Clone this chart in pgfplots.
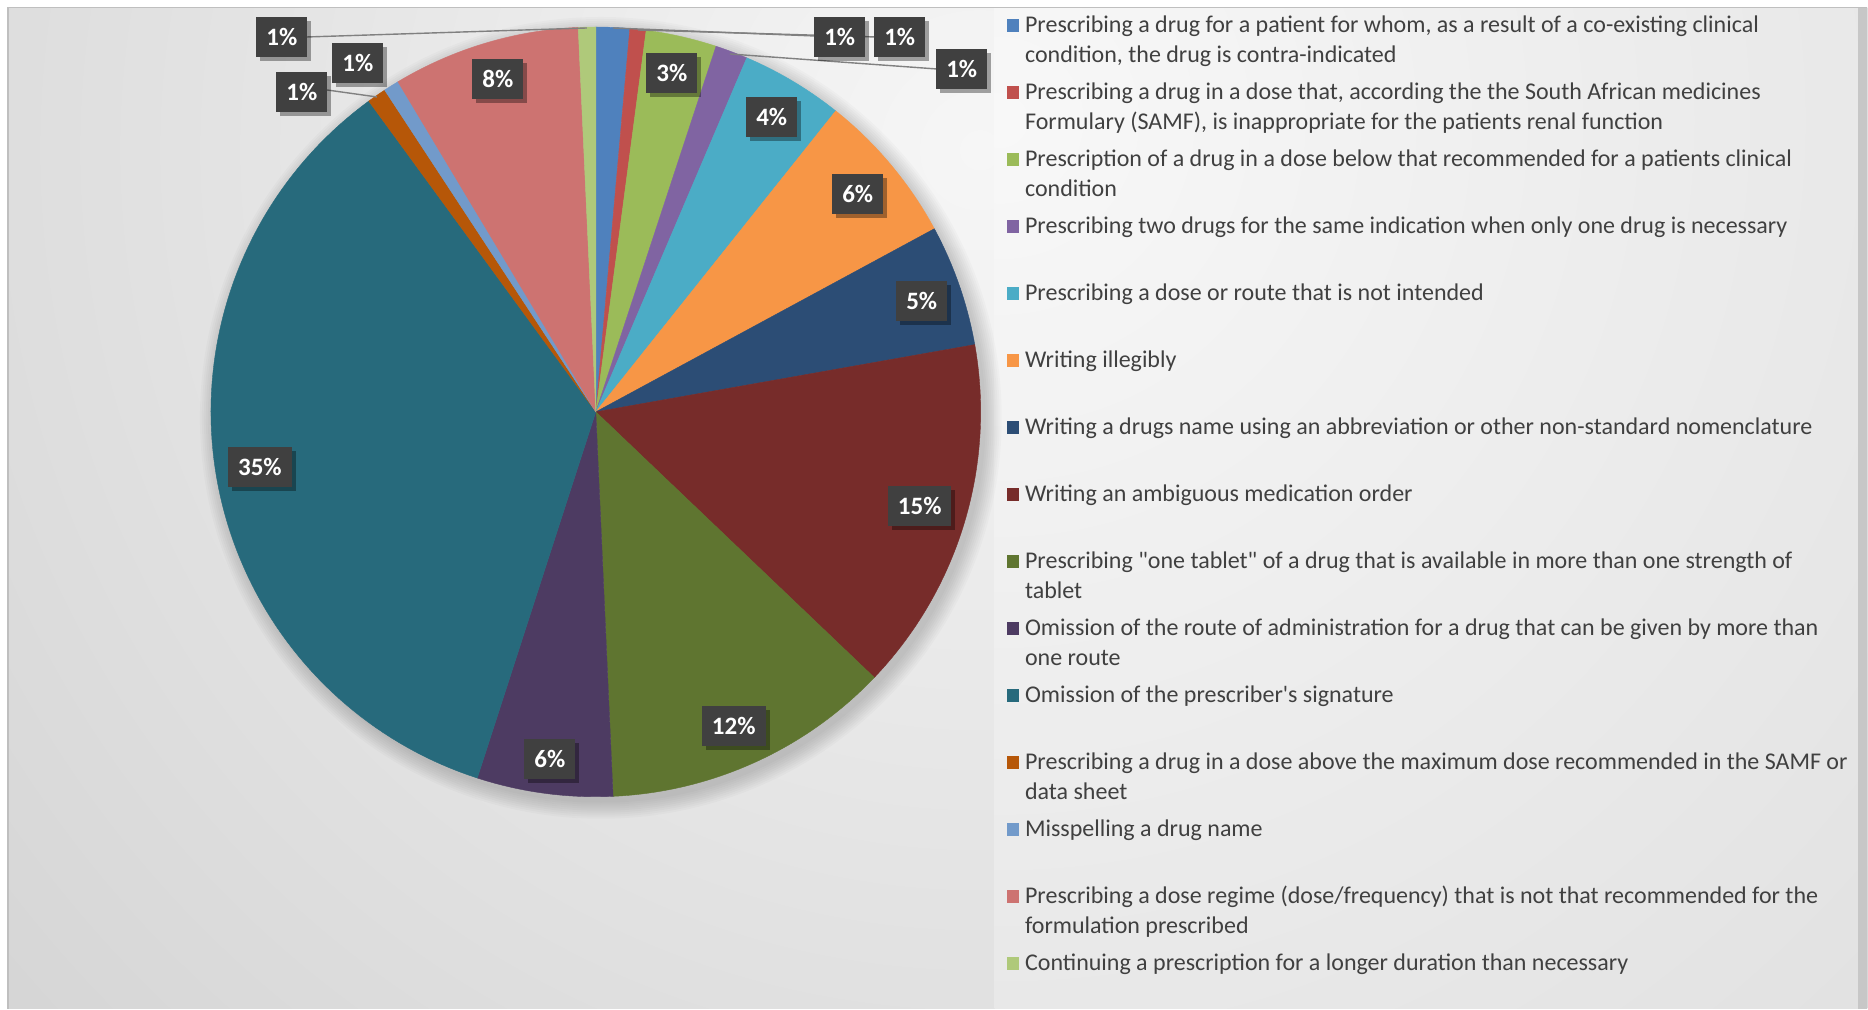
\documentclass[border=0pt]{standalone}
\usepackage{pgfplots}
\pgfplotsset{compat=1.18}
\usepackage{pgfplotstable}
\usepackage{fontspec}
\setmainfont{Carlito}
\newfontfamily\legf{Carlito}
\usetikzlibrary{shadows}

\definecolor{slcol0}{HTML}{4F81BD}
\definecolor{slcol1}{HTML}{C0504D}
\definecolor{slcol2}{HTML}{9BBB59}
\definecolor{slcol3}{HTML}{8064A2}
\definecolor{slcol4}{HTML}{4BACC6}
\definecolor{slcol5}{HTML}{F79646}
\definecolor{slcol6}{HTML}{2C4D75}
\definecolor{slcol7}{HTML}{772C2A}
\definecolor{slcol8}{HTML}{5F7530}
\definecolor{slcol9}{HTML}{4D3B62}
\definecolor{slcol10}{HTML}{276A7C}
\definecolor{slcol11}{HTML}{B65708}
\definecolor{slcol12}{HTML}{729ACA}
\definecolor{slcol13}{HTML}{CD7371}
\definecolor{slcol14}{HTML}{AFC97A}
\definecolor{lblgray}{HTML}{404040}
\definecolor{legtext}{HTML}{404040}
\definecolor{bgdark}{HTML}{C4C4C4}
\definecolor{bglight}{HTML}{F6F6F6}
\definecolor{lgdark}{HTML}{D4D4D4}
\definecolor{lglight}{HTML}{F8F8F8}
\definecolor{leader}{HTML}{808080}

% share of each category (percent), clockwise from 12 o'clock
\pgfplotstableread{
v
1.41
0.68
2.97
1.36
4.30
6.40
5.10
14.93
12.17
5.70
35.00
0.80
0.65
7.87
0.73
}\piedata

\tikzset{
  lbl/.style={fill=lblgray, text=white, font=\fontsize{12.5bp}{15bp}\selectfont\bfseries,
    inner xsep=5bp, inner ysep=0pt, minimum height=20bp, minimum width=25bp,
    drop shadow={shadow xshift=2bp, shadow yshift=-2bp, opacity=0.35, fill=black}},
  legfont/.style={anchor=base west, inner sep=0pt, text=legtext, font=\legf\fontsize{12bp}{15bp}\selectfont}
}

\newcommand\legitem[4]{%
  \fill[#2] (axis cs:1007,{33+67*(#1-1)-14}) rectangle (axis cs:1019,{33+67*(#1-1)-1});
  \node[legfont] at (axis cs:1025,{33+67*(#1-1)}) {#3};
  \node[legfont] at (axis cs:1025,{33+67*(#1-1)+30}) {#4};
}

\begin{document}
\begin{tikzpicture}
\begin{axis}[x=0.5bp, y=0.5bp, y dir=reverse, xmin=0, xmax=1868, ymin=0, ymax=1009,
  hide axis, clip=false, scale only axis]
% background
\fill[white] (axis cs:0,0) rectangle (axis cs:1868,1009);
\begin{scope}
\clip (axis cs:8,8) rectangle (axis cs:1868,1009);
\fill[bgdark] (axis cs:8,8) rectangle (axis cs:1868,1009);
\shade[inner color=bglight, outer color=bgdark] (axis cs:980,150) circle[radius=1000bp];
\end{scope}
\begin{scope}
\clip (axis cs:995,8) rectangle (axis cs:1859,1009);
\fill[lgdark] (axis cs:995,8) rectangle (axis cs:1859,1009);
\shade[inner color=lglight, outer color=lgdark] (axis cs:1000,120) circle[radius=1000bp];
\end{scope}
\fill[black!22] (axis cs:1859,8) rectangle (axis cs:1868,1009);
\draw[black!25, line width=0.6bp] (axis cs:8,1009) -- (axis cs:8,7.5) -- (axis cs:1868,7.5);

% pie shadow
\pgfplotsinvokeforeach{1,...,9}{
  \fill[black, opacity=0.02] (axis cs:601,418) circle[radius={(191.5+#1)*1bp}];
}

% slices
\pgfmathsetmacro\tot{0}
\pgfplotsforeachungrouped \i in {0,...,14}{%
  \pgfplotstablegetelem{\i}{v}\of\piedata
  \pgfmathsetmacro\tot{\tot+\pgfplotsretval}%
}
\pgfmathsetmacro\fac{360/\tot}
\xdef\cum{0}
\pgfplotsforeachungrouped \i in {0,...,14}{%
  \pgfplotstablegetelem{\i}{v}\of\piedata
  \pgfmathsetmacro\a{\cum*\fac}%
  \pgfmathsetmacro\newcum{\cum+\pgfplotsretval}%
  \pgfmathsetmacro\b{\newcum*\fac}%
  \xdef\cum{\newcum}%
  \edef\cmd{\noexpand\addplot[fill=slcol\i, draw=slcol\i, line width=0.2bp, domain=\a:\b, samples=90]
    ({596+385*sin(x)},{412-385*cos(x)}) -- (axis cs:596,412) -- cycle;}%
  \cmd
}

% leader lines
\draw[leader, line width=0.7bp] (axis cs:307,37) -- (axis cs:587,28);
\draw[leader, line width=0.7bp] (axis cs:613,28) -- (axis cs:815,36);
\draw[leader, line width=0.7bp] (axis cs:638,30) -- (axis cs:876,37);
\draw[leader, line width=0.7bp] (axis cs:730,54) -- (axis cs:937,69);
\draw[leader, line width=0.7bp] (axis cs:327,90) -- (axis cs:377,97);

% data labels
\node[lbl] at (axis cs:840,37) {1\%};
\node[lbl] at (axis cs:900,37) {1\%};
\node[lbl] at (axis cs:672,73) {3\%};
\node[lbl] at (axis cs:962,69) {1\%};
\node[lbl] at (axis cs:772,117) {4\%};
\node[lbl] at (axis cs:858,194) {6\%};
\node[lbl] at (axis cs:922,301) {5\%};
\node[lbl] at (axis cs:920,506) {15\%};
\node[lbl] at (axis cs:734,726) {12\%};
\node[lbl] at (axis cs:550,759) {6\%};
\node[lbl] at (axis cs:260,467) {35\%};
\node[lbl] at (axis cs:302,92) {1\%};
\node[lbl] at (axis cs:358,63) {1\%};
\node[lbl] at (axis cs:498,79) {8\%};
\node[lbl] at (axis cs:282,37) {1\%};

% legend
\legitem{1}{slcol0}{Prescribing a drug for a patient for whom, as a result of a co-existing clinical}{condition, the drug is contra-indicated}
\legitem{2}{slcol1}{Prescribing a drug in a dose that, according the the South African medicines}{Formulary (SAMF), is inappropriate for the patients renal function}
\legitem{3}{slcol2}{Prescription of a drug in a dose below that recommended for a patients clinical}{condition}
\legitem{4}{slcol3}{Prescribing two drugs for the same indication when only one drug is necessary}{}
\legitem{5}{slcol4}{Prescribing a dose or route that is not intended}{}
\legitem{6}{slcol5}{Writing illegibly}{}
\legitem{7}{slcol6}{Writing a drugs name using an abbreviation or other non-standard nomenclature}{}
\legitem{8}{slcol7}{Writing an ambiguous medication order}{}
\legitem{9}{slcol8}{Prescribing "one tablet" of a drug that is available in more than one strength of}{tablet}
\legitem{10}{slcol9}{Omission of the route of administration for a drug that can be given by more than}{one route}
\legitem{11}{slcol10}{Omission of the prescriber's signature}{}
\legitem{12}{slcol11}{Prescribing a drug in a dose above the maximum dose recommended in the SAMF or}{data sheet}
\legitem{13}{slcol12}{Misspelling a drug name}{}
\legitem{14}{slcol13}{Prescribing a dose regime (dose/frequency) that is not that recommended for the}{formulation prescribed}
\legitem{15}{slcol14}{Continuing a prescription for a longer duration than necessary}{}
\end{axis}
\end{tikzpicture}
\end{document}
